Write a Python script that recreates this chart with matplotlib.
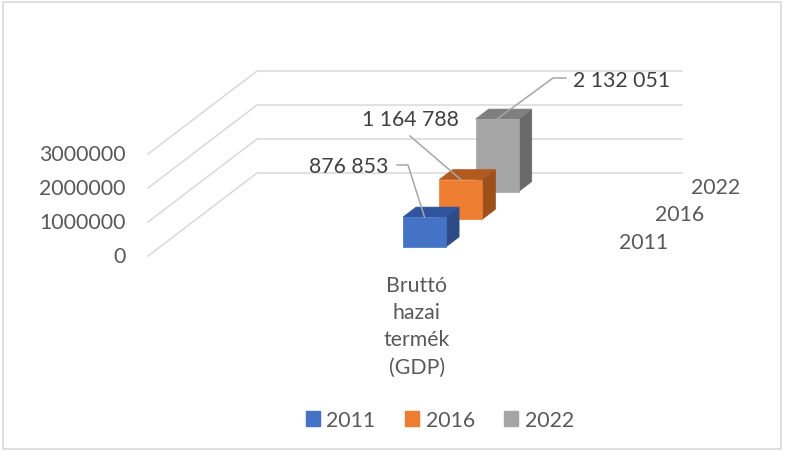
import matplotlib.pyplot as plt
from matplotlib.patches import Polygon, Patch, Rectangle

plt.rcParams['font.family'] = ['Lato', 'DejaVu Sans']

# === data ===
years = ['2011', '2016', '2022']
values = [876853, 1164788, 2132051]
labels = ['876 853', '1 164 788', '2 132 051']
category = 'Bruttó\nhazai\ntermék\n(GDP)'
ticks = [0, 1000000, 2000000, 3000000]

front = ['#4472C4', '#ED7D31', '#A5A5A5']
top = ['#2F559E', '#B35B1F', '#7F7F7F']
side = ['#2C4C88', '#9E4F1B', '#6A6A6A']

# === fake 3D (oblique) projection in pixel space ===
X0, Y0 = 148, 257        # front-left floor corner
DX, DY = 109, 83         # full depth offset
SCALE = 34 / 1e6         # px per unit value
WALL_W = 425
BX0, BX1 = 243, 286      # bar extent along category axis


def proj(x, t, z):
    return X0 + x + DX * t, Y0 - DY * t - z * SCALE


fig = plt.figure(figsize=(7.85, 4.52), dpi=100)
ax = fig.add_axes([0, 0, 1, 1])
ax.set_xlim(0, 785)
ax.set_ylim(452, 0)
ax.axis('off')

fig.patches.append(Rectangle((3 / 785, 2 / 452), 778 / 785, 447 / 452, transform=fig.transFigure,
                             fill=False, edgecolor='#D9D9D9', linewidth=1.2))

# gridlines on side + back wall
for z in ticks:
    pts = [proj(0, 0, z), proj(0, 1, z), proj(WALL_W, 1, z)]
    ax.plot([p[0] for p in pts], [p[1] for p in pts], color='#D9D9D9', lw=1.1, zorder=1)
    x, y = proj(0, 0, z)
    ax.text(x - 22, y, f'{z}', ha='right', va='center', fontsize=15.3, color='#595959')

# bars, back to front
for i in reversed(range(len(values))):
    v = values[i]
    t0 = (i + 0.33) / 3
    t1 = (i + 0.69) / 3
    f = [proj(BX0, t0, 0), proj(BX1, t0, 0), proj(BX1, t0, v), proj(BX0, t0, v)]
    tp = [proj(BX0, t0, v), proj(BX1, t0, v), proj(BX1, t1, v), proj(BX0, t1, v)]
    sd = [proj(BX1, t0, 0), proj(BX1, t1, 0), proj(BX1, t1, v), proj(BX1, t0, v)]
    for poly, c in [(sd, side[i]), (tp, top[i]), (f, front[i])]:
        ax.add_patch(Polygon(poly, closed=True, facecolor=c, edgecolor=c, lw=0.5, zorder=3 + (2 - i)))

# data labels with leader lines
lab_pos = [(349, 167), (410, 120), (622, 81)]
leaders = [[(397, 166), (408, 166)], [(410, 137)], [(566, 79), (553, 79)]]
for i, v in enumerate(values):
    t0 = (i + 0.33) / 3
    end = proj((BX0 + BX1) / 2, t0, v)
    pts = leaders[i] + [end]
    ax.plot([p[0] for p in pts], [p[1] for p in pts], color='#A6A6A6', lw=1.1, zorder=10)
    ax.text(lab_pos[i][0], lab_pos[i][1], labels[i], ha='center', va='center',
            fontsize=15.3, color='#404040', zorder=11)

# series (depth) axis labels
for i, yr in enumerate(years):
    x, y = proj(477, (i + 0.5) / 3, 0)
    ax.text(x, y, yr, ha='center', va='center', fontsize=15.3, color='#595959')

# category label
ax.text(417, 276, category, ha='center', va='top', fontsize=15.3, color='#595959', linespacing=1.45)

handles = [Patch(facecolor=c, edgecolor=c) for c in front]
fig.legend(handles, years, loc='center', bbox_to_anchor=(440 / 785, 1 - 421 / 452), ncol=3,
           frameon=False, fontsize=15.3, labelcolor='#595959', handlelength=0.65, handleheight=0.65,
           handletextpad=0.3, columnspacing=1.4)

fig.savefig('out.png', dpi=100)
